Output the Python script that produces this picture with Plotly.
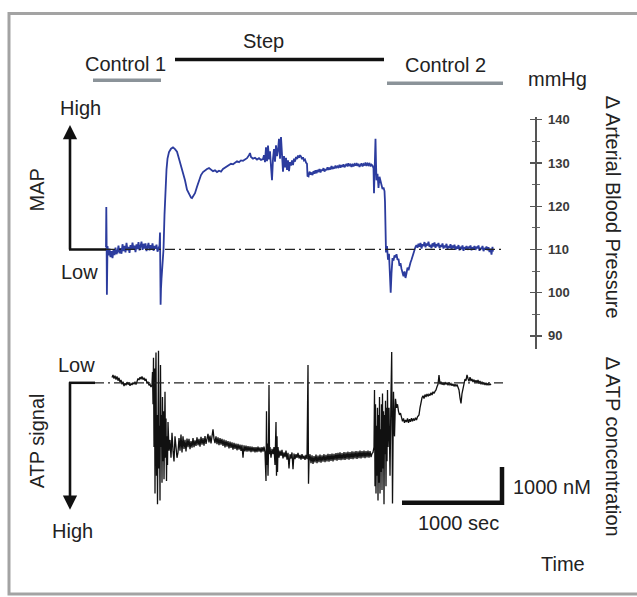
import plotly.graph_objects as go

# ---------------- data ----------------
# Mean arterial pressure trace (time in s, value in mmHg)
map_t_control1 = [10, 13, 16, 19, 22, 25, 35, 45, 55, 65, 75, 85, 95, 105, 115, 125, 135, 145, 155, 165,
                  175, 185, 195, 205, 215, 225, 235, 245, 255, 265, 275, 285, 295, 305, 315, 325, 335, 345,
                  355, 365, 375, 385, 395, 405, 415, 425, 435, 445, 455, 465, 475, 485, 495, 505, 515, 525,
                  535, 545]
map_v_control1 = [110.5, 119.8, 112, 99.5, 106, 110.8, 108.6, 110.2, 108.2, 109.6, 108, 109.9, 108.7, 110.4,
                  108.9, 109.5, 110.9, 109.1, 110.3, 109, 111.2, 109.6, 110.8, 109.3, 111.5, 109.8, 110.6,
                  109.2, 111, 109.9, 111.6, 110, 110.9, 109.4, 111.2, 110.1, 111.7, 109.8, 110.7, 111.8,
                  109.9, 111.3, 110.2, 111.4, 109.6, 110.9, 111.5, 109.8, 111, 110.1, 111.4, 109.7, 110.8,
                  110.2, 111.1, 109.5, 110.6, 110.9]
map_t_onset = [550, 553, 556, 560, 565, 570, 575, 585, 595, 605, 615, 625, 640, 660, 680, 700, 720, 740, 760,
               780, 800, 820, 840, 860, 870, 880, 900, 920, 940, 960, 980, 1000, 1020, 1040, 1060, 1080, 1100,
               1120, 1140, 1160, 1180, 1200, 1220, 1240, 1260, 1280, 1300, 1320, 1340, 1360, 1380, 1400, 1420,
               1440, 1450, 1460, 1480, 1500, 1520, 1540, 1560, 1580]
map_v_onset = [113.9, 108, 97.2, 101, 103.2, 104.5, 107.5, 110, 118, 124.6, 128.5, 131, 132.5, 133.3, 133.6,
               133.2, 132.6, 131, 129.4, 127.6, 126, 123.8, 122.7, 122, 121.9, 122.2, 123, 124.5, 126, 127.2,
               127.9, 128.3, 128.6, 128.8, 128.4, 128.1, 128.3, 127.9, 128.2, 128, 128.6, 128.9, 129.1, 129.4,
               129.8, 129.7, 130.1, 130.4, 130.2, 130.6, 130.5, 130.9, 131.1, 131.8, 132.3, 131.4, 131, 131.2,
               130.8, 131.1, 130.7, 130.9]
map_t_noisy = [1590, 1600, 1610, 1620, 1630, 1640, 1650, 1660, 1670, 1680, 1690, 1700, 1710, 1720, 1730, 1740,
               1750, 1760, 1770, 1780, 1790, 1800, 1810, 1820, 1830, 1840, 1850, 1860, 1870, 1880, 1890, 1900,
               1910, 1920, 1930, 1940, 1950, 1960, 1970, 1980, 1990, 2000, 2010, 2020]
map_v_noisy = [131.8, 130.2, 133.6, 130.4, 134, 130.8, 132.7, 129.2, 126, 131, 133.2, 130.3, 134.1, 131.6, 133,
               135.6, 131, 136, 130.2, 128, 131.6, 129, 131.2, 128.4, 130.6, 128.1, 130.2, 129.4, 130.6, 129.5,
               131, 130.3, 131.4, 130.9, 131.7, 131.2, 131.8, 131.5, 130.9, 131.3, 130.6, 130.8, 130.1, 129.8]
map_t_plateau = [2025, 2035, 2045, 2055, 2065, 2075, 2085, 2095, 2105, 2115, 2125, 2135, 2145, 2155, 2165, 2175,
                 2185, 2195, 2205, 2215, 2225, 2235, 2245, 2255, 2265, 2275, 2285, 2295, 2305, 2315, 2325, 2335,
                 2345, 2355, 2365, 2375, 2385, 2395, 2405, 2415, 2425, 2435, 2445, 2455, 2465, 2475, 2485, 2495,
                 2505, 2515, 2525, 2535, 2545, 2555, 2565, 2575, 2585, 2595, 2605, 2615, 2625, 2635, 2645, 2655,
                 2665, 2675, 2685]
map_v_plateau = [127, 126.9, 128, 127.3, 127.8, 127.2, 128.1, 127.5, 128.3, 127.6,
                 128.4, 127.9, 128.6, 127.8, 128.5, 128.2, 128.8, 128, 128.6, 128.3,
                 129, 128.4, 128.9, 128.5, 129.3, 128.6, 129.1, 128.7, 129.4, 128.8,
                 129.2, 129, 129.6, 128.9, 129.5, 129.1, 129.7, 129, 129.4, 129.8,
                 129.2, 129.9, 129.3, 129.6, 129.1, 129.8, 129.2, 129.7, 129.4, 130,
                 129.3, 129.8, 129.1, 129.6, 129.9, 129.2, 129.7, 129.4, 130.1, 129.3,
                 129.8, 129.5, 130, 129.2, 129.6, 129.4, 128.8]
map_t_offset = [2690, 2695, 2700, 2705, 2710, 2715, 2725, 2735, 2745, 2755, 2765, 2775, 2785, 2795, 2800, 2805,
                2810, 2820, 2830, 2840, 2850, 2857, 2865, 2875, 2885, 2895, 2905, 2915, 2925, 2935, 2945, 2955,
                2965, 2975, 2985, 2995, 3005, 3015, 3025, 3035, 3045, 3055, 3065, 3075, 3085, 3095, 3105, 3115]
map_v_offset = [123, 127, 129.5, 135.6, 130, 126, 127.5, 124.2, 126.8, 125.6, 124.5, 124, 124.3, 123.5, 121,
                115, 109.3, 110.8, 107.6, 109, 105, 100, 104.5, 108, 107.4, 108.6, 108.2, 108.9, 107.6, 107.8,
                106.2, 106.8, 105.5, 104.7, 103.8, 104.9, 103.4, 104.5, 105.8, 105.2, 106.4, 107, 107.6, 108.5,
                109.4, 110, 110.6, 111]
map_t_control2 = [3125, 3135, 3145, 3155, 3165, 3175, 3185, 3195, 3205, 3215, 3225, 3235, 3245, 3255, 3265, 3275,
                  3285, 3295, 3305, 3315, 3325, 3335, 3345, 3355, 3365, 3375, 3385, 3395, 3405, 3415, 3425, 3435,
                  3445, 3455, 3465, 3475, 3485, 3495, 3505, 3515, 3525, 3535, 3545, 3555, 3565, 3575, 3585, 3595,
                  3605, 3615, 3625, 3635, 3645, 3655, 3665, 3675, 3685, 3695, 3705, 3715, 3725, 3735, 3745, 3755,
                  3765, 3775, 3785, 3795, 3805, 3815, 3825, 3835, 3845, 3855, 3865, 3875, 3880]
map_v_control2 = [110.4, 111.3, 110.6, 111.5, 110.2, 111.2, 110.8, 111.7, 110.5, 111.4,
                  110.9, 111.8, 110.6, 111.1, 110.3, 111.4, 110.7, 111.6, 110.4, 111.2,
                  110.8, 111.5, 110.3, 111, 110.6, 111.4, 110.2, 110.9, 110.5, 111.3,
                  110.1, 110.8, 110.4, 111.2, 110, 110.9, 110.3, 111.1, 109.9, 110.7,
                  110.2, 111, 109.8, 110.6, 110.1, 110.9, 109.7, 110.5, 110.2, 110.8,
                  109.9, 110.6, 110.3, 110.9, 109.8, 110.5, 110.1, 110.8, 109.9, 110.6,
                  110.3, 110.9, 109.7, 110.4, 110.1, 110.8, 109.6, 110.3, 110, 110.7,
                  109.8, 110.5, 109.4, 110.2, 108.8, 110.6, 109.5]

# ATP signal trace (time in s, change in nM; larger = more ATP, drawn downward)
atp_t_control1 = [70, 80, 90, 100, 110, 120, 130, 140, 150, 160, 170, 180, 190, 200, 210, 220, 230, 240, 250,
                  260, 270, 280, 290, 300, 310, 320, 330, 340, 350, 360, 370, 380, 390, 400, 410, 420, 430, 440,
                  450, 460, 470]
atp_v_control1 = [-150, -220, -120, -200, -90, -180, -60, -140, -20, -80,
                  40, -30, 90, 10, 70, -20, 50, 0, 80, 20,
                  60, -10, 40, -30, 50, -60, -120, -80, -160, -100,
                  -180, -90, -140, -60, -110, 20, -30, 70, 40, 120,
                  60]
atp_t_onset = [475, 480, 485, 490, 495, 500, 505, 510, 515, 520, 525, 530, 535, 540, 545, 550, 555, 560, 565,
               570, 575, 580, 585, 590, 595, 600, 605, 610, 615, 620, 625, 630]
atp_v_onset = [-300, 600, -700, 1800, -400, 3100, 200, -850, 2600, 900, 3400, 500, -900, 2400, 1200, 3300, -500,
               1800, 900, 2800, 400, 2200, 800, 2700, 1300, 250, 2100, 1000, 2750, 1500, 2300, 1100]
atp_t_step1 = [640, 650, 660, 670, 680, 690, 700, 710, 720, 730, 740, 750, 760, 770, 780, 790, 800, 810, 820,
               830, 840, 850, 860, 870, 880, 890, 900, 910, 920, 930, 940, 950, 960, 970, 980, 990, 1000, 1010,
               1020, 1030, 1040, 1050, 1060, 1070, 1080, 1090, 1100, 1110, 1120, 1130, 1140, 1150, 1160, 1170,
               1180, 1190, 1200, 1210, 1220, 1230, 1240, 1250, 1260, 1270, 1280, 1290, 1300, 1310, 1320, 1330,
               1340, 1350, 1360, 1370, 1380, 1390, 1400, 1410, 1420, 1430, 1440, 1450, 1460, 1470, 1480, 1490,
               1500, 1510, 1520, 1530, 1540, 1550, 1560, 1570, 1580, 1590, 1600]
atp_v_step1 = [1900, 1600, 2100, 1400, 1900, 2200, 1500, 1800, 2100, 1950,
               1550, 1900, 1450, 1950, 1500, 1850, 1600, 1920, 1560, 1800,
               1570, 1860, 1630, 1820, 1550, 1800, 1610, 1770, 1530, 1750,
               1570, 1790, 1510, 1730, 1550, 1760, 1490, 1710, 1530, 1430,
               1670, 1480, 1700, 1450, 1300, 1570, 1690, 1500, 1720, 1530,
               1750, 1550, 1730, 1570, 1770, 1590, 1810, 1610, 1790, 1630,
               1840, 1650, 1820, 1670, 1870, 1680, 1850, 1700, 1890, 1710,
               1870, 1730, 1910, 1740, 2100, 1750, 1920, 1760, 1930, 1770,
               1920, 1780, 1940, 1790, 1930, 1800, 1950, 1800, 1940, 1790,
               1930, 1810, 1950, 1800, 1930, 1790, 1950]
atp_t_step2 = [1610, 1615, 1620, 1625, 1630, 1635, 1640, 1645, 1650, 1660, 1670, 1680, 1690, 1700, 1710, 1715,
               1720, 1725, 1730, 1740, 1750, 1760, 1770, 1780, 1790, 1800, 1810, 1820, 1830, 1840, 1850, 1860,
               1870, 1880, 1890, 1900, 1910, 1920, 1930, 1940, 1950, 1960, 1970, 1980, 1990, 2000, 2010, 2020]
atp_v_step2 = [2750, 800, 2300, 1700, 2600, 1900, 60, 2000, 1800, 2100, 1850, 2000, 1800, 2300, 1100, 2600,
               1500, 2500, 1800, 2100, 1900, 2050, 1880, 2120, 1950, 2080, 1900, 2150, 1960, 2400, 2000, 2120,
               1950, 2420, 1980, 2140, 2000, 2100, 1960, 2120, 2020, 2150, 2000, 2130, 2040, 2160, 2020, 2140]
atp_t_step3 = [2030, 2035, 2040, 2050, 2060, 2070, 2080, 2090, 2100, 2110, 2120, 2130, 2140, 2150, 2160, 2170,
               2180, 2190, 2200, 2210, 2220, 2230, 2240, 2250, 2260, 2270, 2280, 2290, 2300, 2310, 2320, 2330,
               2340, 2350, 2360, 2370, 2380, 2390, 2400, 2410, 2420, 2430, 2440, 2450, 2460, 2470, 2480, 2490,
               2500, 2510, 2520, 2530, 2540, 2550, 2560, 2570, 2580, 2590, 2600, 2610, 2620, 2630, 2640, 2650,
               2660, 2670]
atp_v_step3 = [-500, 2830, 2200,
               2000, 2250, 2030, 2270, 2050, 2230, 2010, 2250, 2040, 2220,
               2010, 2240, 2030, 2210, 2000, 2220, 2020, 2200, 1990, 2210,
               2000, 2190, 1980, 2200, 1990, 2170, 1970, 2180, 1960, 2160,
               1950, 2170, 1970, 2150, 1940, 2160, 1950, 2140, 1930, 2150,
               1940, 2130, 1920, 2140, 1930, 2120, 1910, 2130, 1920, 2110,
               1900, 2120, 1910, 2100, 1900, 2110, 1910, 2090, 1900, 2100,
               1910, 2080, 1980]
atp_t_offset = [2680, 2690, 2695, 2700, 2705, 2710, 2715, 2720, 2725, 2730, 2735, 2740, 2745, 2750, 2755, 2760,
                2765, 2770, 2775, 2780, 2785, 2790, 2795, 2800, 2805, 2810, 2815, 2820, 2825, 2830,
                2840, 2850, 2860, 2867, 2875, 2885, 2895, 2905, 2915, 2925, 2935, 2945, 2955, 2965, 2975, 2985,
                2995, 3005, 3015, 3025, 3035, 3045, 3055, 3065, 3075, 3085, 3095, 3105, 3115, 3125]
atp_v_offset = [1950, 1800, 200, 2900, 600, 3100, 1200, 2600, 700, 3300, 900, 2800,
                400, 3100, 1300, 2500, 600, 3000, 300, 2400, 800, 3400,
                900, 2000, 500, 2900, 700, 2200, 200, 1800,
                700, 2600, 300, -860, 3380, 250, 1500, 450, 700, 600,
                800, 900, 850, 1000, 1080, 1000, 1120, 1040, 1100, 1000,
                1120, 1020, 1090, 990, 1080, 1000, 1060, 980, 1040, 950]
atp_t_control2 = [3140, 3150, 3160, 3170, 3180, 3190, 3200, 3210, 3220, 3230, 3240, 3250, 3260, 3270, 3280, 3290,
                  3300, 3310, 3320, 3330, 3340, 3350, 3360, 3370, 3380, 3390, 3400, 3410, 3420, 3430, 3440, 3450,
                  3460, 3470, 3480, 3490, 3500, 3510, 3520, 3530, 3540, 3550, 3560, 3570, 3580, 3590, 3600, 3610,
                  3620, 3630, 3640, 3650, 3660, 3670, 3680, 3690, 3700, 3710, 3720, 3730, 3740, 3750, 3760, 3770,
                  3780, 3790, 3800, 3810, 3820, 3830, 3840, 3850, 3860]
atp_v_control2 = [900, 700, 500, 420, 360, 440, 330, 400, 310, 380,
                  320, 360, 280, 340, 250, 300, 240, 200, 110, 40,
                  -220, 40, -30, 50, 0, 60, -20, 50, -10, 70,
                  0, 60, 20, 80, 30, 100, 40, 90, 50, 120,
                  200, 420, 580, 300, 150, 40, -100, -60, -220, -120,
                  -40, -160, -50, -110, -20, -90, -10, -70, 0, -80,
                  20, -50, 40, -30, 50, -10, 60, 0, 70, 10,
                  60, 30, 60]

# protocol periods (time in s)
period_names = ["Control 1", "Step", "Control 2"]
period_start = [-120, 700, 2820]
period_end = [560, 2790, 3980]

# right-hand pressure scale (mmHg)
scale_ticks = [90, 100, 110, 120, 130, 140]
scale_minor = [95, 105, 115, 125, 135]
baseline_mmhg = 110
baseline_nm = 0

# scale bars
SCALE_SEC = 1000
SCALE_NM = 1000
scale_corner_t = 3970
scale_corner_nm = 3360

# ---------------- assemble ----------------
map_t = map_t_control1 + map_t_onset + map_t_noisy + map_t_plateau + map_t_offset + map_t_control2
map_v = map_v_control1 + map_v_onset + map_v_noisy + map_v_plateau + map_v_offset + map_v_control2
atp_t = atp_t_control1 + atp_t_onset + atp_t_step1 + atp_t_step2 + atp_t_step3 + atp_t_offset + atp_t_control2
atp_v = atp_v_control1 + atp_v_onset + atp_v_step1 + atp_v_step2 + atp_v_step3 + atp_v_offset + atp_v_control2
assert len(map_t) == len(map_v), (len(map_t), len(map_v))
assert len(atp_t) == len(atp_v), (len(atp_t), len(atp_v))

W, H = 637, 597
FONT = "Liberation Sans, Arial, Helvetica, sans-serif"
TXT = "#222222"


def px(x):
    return x / W


def py(y):
    return 1 - y / H


# axis scaling (pixels of the canvas)
T0_PX, PX_PER_S = 105, 0.1
MAP_BASE_PX, PX_PER_MMHG = 246.5, 4.36
ATP_BASE_PX, PX_PER_NM = 381, 0.036


def mmhg_at(ypx):
    return baseline_mmhg + (MAP_BASE_PX - ypx) / PX_PER_MMHG


def nm_at(ypx):
    return (ypx - ATP_BASE_PX) / PX_PER_NM


x_range = [(0 - T0_PX) / PX_PER_S, (W - T0_PX) / PX_PER_S]

fig = go.Figure()
fig.add_trace(go.Scatter(x=map_t, y=map_v, mode="lines", yaxis="y",
                         line=dict(color="#2c3c9e", width=1.8), hoverinfo="skip"))
fig.add_trace(go.Scatter(x=atp_t, y=atp_v, mode="lines", yaxis="y2",
                         line=dict(color="#111111", width=1.3), hoverinfo="skip"))
fig.add_trace(go.Scatter(x=[scale_corner_t - SCALE_SEC, scale_corner_t, scale_corner_t],
                         y=[scale_corner_nm, scale_corner_nm, scale_corner_nm - SCALE_NM],
                         mode="lines", yaxis="y2", line=dict(color="#111111", width=4.5), hoverinfo="skip"))
fig.add_trace(go.Scatter(x=[None], y=[None], yaxis="y3", hoverinfo="skip"))
fig.add_trace(go.Scatter(x=[None], y=[None], yaxis="y4", hoverinfo="skip"))

tick_dom = [py(347), py(113)]
tick_rng = [mmhg_at(347), mmhg_at(113)]
tick_common = dict(domain=tick_dom, range=tick_rng, anchor="free", position=px(535),
                   showline=True, linecolor="#555555", linewidth=1.5, showgrid=False, zeroline=False,
                   tickmode="array", tickvals=scale_ticks, ticks="outside", ticklen=5, tickwidth=1.3,
                   tickcolor="#555555",
                   minor=dict(tickmode="array", tickvals=scale_minor, ticks="outside",
                              ticklen=3, tickwidth=1.1, tickcolor="#666666"))

fig.update_layout(
    width=W, height=H, margin=dict(l=0, r=0, t=0, b=0), showlegend=False,
    paper_bgcolor="white", plot_bgcolor="rgba(0,0,0,0)",
    xaxis=dict(range=x_range, domain=[0, 1], visible=False, fixedrange=True),
    yaxis=dict(range=[mmhg_at(H), mmhg_at(0)], domain=[0, 1], visible=False),
    yaxis2=dict(range=[nm_at(H), nm_at(0)], overlaying="y", visible=False),
    yaxis3=dict(side="right", showticklabels=True,
                ticktext=["<b>%d</b>" % v for v in scale_ticks],
                tickfont=dict(family="Liberation Sans", size=13, color="#3a3a3a"),
                ticklabelstandoff=4, **tick_common),
    yaxis4=dict(side="left", showticklabels=False, **tick_common),
)

shapes = []
# frame
shapes.append(dict(type="rect", xref="paper", yref="paper", x0=px(9), x1=px(648), y0=py(594), y1=py(8.5),
                   line=dict(color="#a3a3a3", width=3), fillcolor="rgba(0,0,0,0)", layer="below"))
# baselines
dashdot = "10px,4px,2px,4px"
shapes.append(dict(type="line", xref="paper", yref="y", x0=px(105), x1=px(503), y0=baseline_mmhg,
                   y1=baseline_mmhg, line=dict(color="#222222", width=1.3, dash=dashdot)))
shapes.append(dict(type="line", xref="paper", yref="y", x0=px(69), x1=px(106), y0=baseline_mmhg,
                   y1=baseline_mmhg, line=dict(color="#111111", width=2.5)))
shapes.append(dict(type="line", xref="paper", yref="y2", x0=px(94), x1=px(503), y0=baseline_nm,
                   y1=baseline_nm, line=dict(color="#222222", width=1.3, dash=dashdot)))
shapes.append(dict(type="line", xref="paper", yref="y2", x0=px(69), x1=px(95), y0=baseline_nm,
                   y1=baseline_nm, line=dict(color="#111111", width=2.5)))
# protocol bars
bar_y = [76, 55, 79]
bar_col = ["#8b9399", "#111111", "#8b9399"]
for s, e, yy, c in zip(period_start, period_end, bar_y, bar_col):
    shapes.append(dict(type="line", xref="x", yref="paper", x0=s, x1=e, y0=py(yy), y1=py(yy),
                       line=dict(color=c, width=3.5)))
fig.update_layout(shapes=shapes)

ann = []


def text(t, x, y, size=20, angle=0, color=TXT, xanchor="center"):
    ann.append(dict(text=t, x=px(x), y=py(y), xref="paper", yref="paper", showarrow=False,
                    xanchor=xanchor, yanchor="middle", textangle=angle,
                    font=dict(family=FONT, size=size, color=color)))


label_pos = [(125, 60), (263, 36), (445, 61)]
for name, (lx, ly) in zip(period_names, label_pos):
    text(name, lx, ly)
text("mmHg", 557, 75)
text("High", 80, 104)
text("Low", 79, 269)
text("MAP", 37, 187, angle=-90)
text("Low", 76, 363)
text("High", 72, 530)
text("ATP signal", 37, 440, angle=-90)
text("\u2206 Arterial Blood Pressure", 613, 204, angle=90)
text("\u2206 ATP concentration", 613, 445, angle=90)
text("1000 nM", 552, 486)
text("1000 sec", 458, 522)
text("Time", 563, 564)

# arrows
ann.append(dict(x=px(70), y=py(121), xref="paper", yref="paper", ax=0, ay=126, axref="pixel", ayref="pixel",
                showarrow=True, arrowhead=2, arrowsize=1.1, arrowwidth=2.6, arrowcolor="#111111", text=""))
ann.append(dict(x=px(70), y=py(509), xref="paper", yref="paper", ax=0, ay=-129, axref="pixel", ayref="pixel",
                showarrow=True, arrowhead=2, arrowsize=1.1, arrowwidth=2.6, arrowcolor="#111111", text=""))
fig.update_layout(annotations=ann)

fig.write_html("out.html", config={"displayModeBar": False, "staticPlot": True},
               post_script="document.body.style.margin='0';document.body.style.padding='0';"
                           "document.body.style.overflow='hidden';")
